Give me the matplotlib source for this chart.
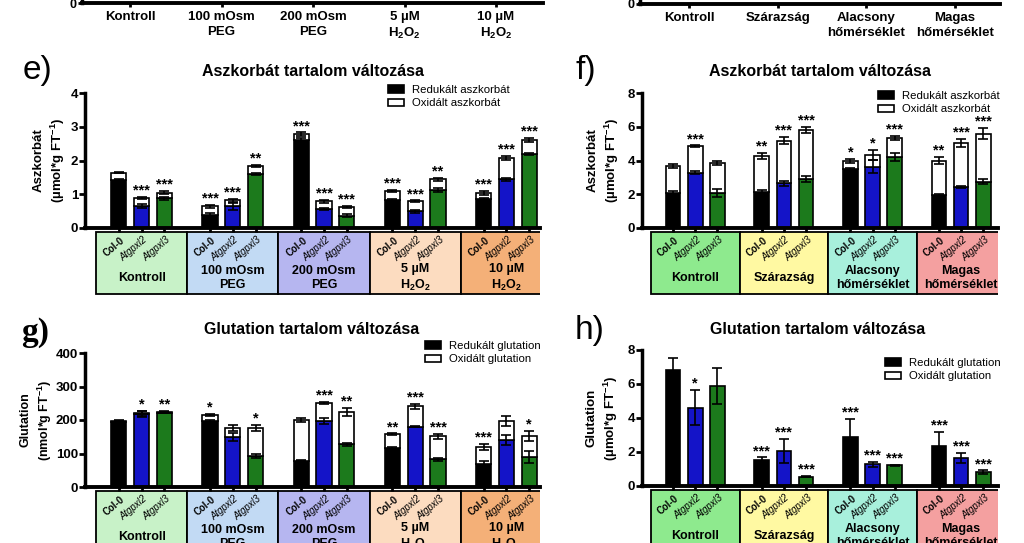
import numpy as np
import matplotlib
matplotlib.use("Agg")
import matplotlib.pyplot as plt
from matplotlib.patches import Rectangle, Patch

plt.rcParams['font.family'] = ['Liberation Sans', 'DejaVu Sans']
plt.rcParams['mathtext.fontset'] = 'custom'
plt.rcParams['mathtext.rm'] = 'Liberation Sans'
plt.rcParams['mathtext.bf'] = 'Liberation Sans:bold'
plt.rcParams['mathtext.it'] = 'Liberation Sans:italic'

# =========================
# DATA
# =========================
lines = ['Col-0', 'Atgpxl2', 'Atgpxl3']
bar_colors = ['black', '#1414c8', '#1c7a1c']

groups_e = ['Kontroll', '100 mOsm\nPEG', '200 mOsm\nPEG',
            '5 µM\n$\\mathbf{H_2O_2}$', '10 µM\n$\\mathbf{H_2O_2}$']
groups_f = ['Kontroll', 'Szárazság', 'Alacsony\nhőmérséklet', 'Magas\nhőmérséklet']
box_colors_e = ['#c8f2c8', '#c2daf4', '#b6b6f0', '#fcdcc0', '#f4b078']
box_colors_f = ['#8eea8e', '#fff9a2', '#a8f0dc', '#f4a0a0']

# e) ascorbate, osmotic / H2O2 stress
asc_e_total = [1.64, 0.90, 1.05, 0.64, 0.82, 1.84, 2.78, 0.79, 0.62, 1.10, 0.79, 1.44, 1.05, 2.08, 2.61]
asc_e_total_err = [0.02, 0.03, 0.04, 0.04, 0.05, 0.04, 0.05, 0.04, 0.04, 0.03, 0.03, 0.04, 0.06, 0.06, 0.05]
asc_e_red = [1.42, 0.64, 0.88, 0.39, 0.64, 1.60, 2.62, 0.56, 0.37, 0.83, 0.49, 1.13, 0.85, 1.44, 2.19]
asc_e_red_err = [0.02, 0.06, 0.05, 0.04, 0.10, 0.02, 0.05, 0.04, 0.04, 0.03, 0.05, 0.05, 0.04, 0.04, 0.03]
asc_e_stars = ['', '***', '***', '***', '***', '**', '***', '***', '***', '***', '***', '**', '***', '***', '***']

# f) ascorbate, drought / temperature stress
asc_f_total = [3.67, 4.85, 3.87, 4.26, 5.17, 5.80, 3.97, 4.32, 5.36, 3.99, 5.05, 5.60]
asc_f_total_err = [0.10, 0.05, 0.12, 0.18, 0.22, 0.18, 0.12, 0.30, 0.12, 0.22, 0.25, 0.35]
asc_f_red = [2.10, 3.28, 2.06, 2.16, 2.65, 2.91, 3.50, 3.63, 4.22, 1.96, 2.42, 2.75]
asc_f_red_err = [0.08, 0.08, 0.25, 0.08, 0.15, 0.20, 0.08, 0.40, 0.25, 0.05, 0.05, 0.15]
asc_f_stars = ['', '***', '', '**', '***', '***', '*', '*', '***', '**', '***', '***']

# g) glutathione, osmotic / H2O2 stress
glu_g_total = [197, 220, 225, 215, 176, 176, 200, 252, 224, 158, 241, 151, 120, 196, 152]
glu_g_total_err = [3, 8, 3, 3, 8, 10, 5, 3, 12, 2, 8, 7, 9, 15, 15]
glu_g_red = [194, 218, 222, 198, 149, 92, 79, 197, 127, 117, 180, 83, 70, 140, 90]
glu_g_red_err = [2, 8, 2, 3, 12, 6, 2, 8, 4, 3, 2, 4, 7, 15, 18]
glu_g_stars = ['', '*', '**', '*', '', '*', '', '***', '**', '**', '***', '***', '***', '', '*']

# h) glutathione, drought / temperature stress
glu_h_red = [6.82, 4.61, 5.88, 1.53, 2.08, 0.55, 2.90, 1.27, 1.22, 2.35, 1.63, 0.80]
glu_h_red_err = [0.70, 1.05, 1.05, 0.15, 0.70, 0.03, 1.05, 0.15, 0.03, 0.85, 0.30, 0.12]
glu_h_stars = ['', '*', '', '***', '***', '***', '***', '***', '***', '***', '***', '***']

# =========================
# FIGURE
# =========================
W, H = 1024, 543
fig = plt.figure(figsize=(W / 100, H / 100), dpi=100)
fig.patch.set_facecolor('white')


def fx(x):
    return x / W


def fy(y):
    return 1 - y / H


def top_strip(left, right, base, first, step, labels):
    # bottom of the previous (cut off) panel
    ax = fig.add_axes([fx(left), fy(base), fx(right) - fx(left), 30 / H])
    ax.set_xlim((left - first) / step, (right - first) / step)
    ax.set_ylim(0, 1)
    for s in ['top', 'right']:
        ax.spines[s].set_visible(False)
    ax.spines['bottom'].set_linewidth(2.8)
    ax.spines['left'].set_linewidth(2.5)
    ax.set_yticks([0])
    ax.set_yticklabels(['0'], fontsize=9, fontweight='bold')
    ax.set_xticks(range(len(labels)))
    ax.set_xticklabels(labels, fontsize=9.5, fontweight='bold', linespacing=1.25)
    ax.tick_params(axis='x', length=3, width=2, pad=3)
    ax.tick_params(axis='y', length=3, width=2, pad=1)
    ax.patch.set_alpha(0)


top_strip(82, 543, 3, 130, 91.5, groups_e)
top_strip(640, 1000, 4, 689, 88.7, groups_f)


def panel(left, right, x0, slot, y0, ppu, ylo, yhi, yticks, groups, box_colors):
    bottom_px = y0 - ylo * ppu
    ax = fig.add_axes([fx(left), fy(bottom_px), fx(right) - fx(left), (yhi - ylo) * ppu / H])
    ax.set_xlim((left - x0) / slot, (right - x0) / slot)
    ax.set_ylim(ylo, yhi)
    ax.patch.set_alpha(0)
    for s in ['top', 'right']:
        ax.spines[s].set_visible(False)
    ax.spines['left'].set_bounds(yticks[0], yticks[-1])
    ax.spines['bottom'].set_position(('data', 0))
    ax.spines['left'].set_linewidth(2.5)
    ax.spines['bottom'].set_linewidth(2.8)
    ax.set_yticks(yticks)
    ax.set_yticklabels([str(t) for t in yticks], fontsize=9.5, fontweight='bold')
    ax.tick_params(axis='y', length=4, width=2, pad=1)

    n = len(groups)
    pos = np.array([4 * g + 1 + i for g in range(n) for i in range(3)], dtype=float)
    ax.set_xticks(pos)
    ax.set_xticklabels([])
    ax.tick_params(axis='x', length=3, width=2, direction='out')

    box_top = -4 / ppu
    box_bot = -66 / ppu
    for g in range(n):
        ax.add_patch(Rectangle((4 * g, box_top), 4, box_bot - box_top,
                               facecolor=box_colors[g], edgecolor='black', lw=1.3, zorder=1))
        ax.text(4 * g + 2, -50 / ppu, groups[g], ha='center', va='center',
                fontsize=9, fontweight='bold', linespacing=1.2, clip_on=True)
        for i in range(3):
            ax.text(4 * g + 1 + i + 0.2, -11 / ppu, lines[i], rotation=40,
                    rotation_mode='anchor', ha='right', va='center', fontsize=6.9,
                    fontweight='bold' if i == 0 else 'normal',
                    fontstyle='normal' if i == 0 else 'italic', clip_on=True)
    return ax, pos


def bars(ax, pos, red, red_err, total=None, total_err=None, stars=None):
    cols = bar_colors * (len(pos) // 3)
    ax.bar(pos, red, width=0.66, color=cols, edgecolor='black', linewidth=1.2, zorder=2)
    ax.errorbar(pos, red, yerr=red_err, fmt='none', ecolor='black', elinewidth=1.2,
                capsize=3.5, capthick=1.2, zorder=3)
    top = np.array(red, dtype=float) + np.array(red_err, dtype=float)
    if total is not None:
        ax.bar(pos, np.array(total) - np.array(red), bottom=red, width=0.66, color='white',
               edgecolor='black', linewidth=1.2, zorder=2)
        ax.errorbar(pos, total, yerr=total_err, fmt='none', ecolor='black', elinewidth=1.2,
                    capsize=3.5, capthick=1.2, zorder=3)
        top = np.array(total, dtype=float) + np.array(total_err, dtype=float)
    for x, t, s in zip(pos, top, stars):
        if s:
            ax.annotate(s, (x, t), xytext=(0, -0.5), textcoords='offset points',
                        ha='center', va='bottom', fontsize=10.5, fontweight='bold')


def legend(ax, x, y, labels):
    handles = [Patch(facecolor='black', edgecolor='black', lw=1.2),
               Patch(facecolor='white', edgecolor='black', lw=1.2)]
    ax.legend(handles, labels, loc='upper left', bbox_to_anchor=(fx(x), fy(y)),
              bbox_transform=fig.transFigure, frameon=False, fontsize=8.2,
              handlelength=1.4, handleheight=0.65, handletextpad=0.7,
              labelspacing=0.3, borderpad=0, borderaxespad=0)


def ylabel(x, y0, ppu, ymid, text, size=9.5):
    fig.text(fx(x), fy(y0 - ymid * ppu), text, rotation=90, ha='center', va='center',
             fontsize=size, fontweight='bold', linespacing=1.3, multialignment='center')


asc_labels = ['Redukált aszkorbát', 'Oxidált aszkorbát']
glu_labels = ['Redukált glutation', 'Oxidált glutation']

# e)
ax_e, pos_e = panel(85, 540, 96, 22.8, 228, 33.75, -2.0, 4.15, [0, 1, 2, 3, 4], groups_e, box_colors_e)
bars(ax_e, pos_e, asc_e_red, asc_e_red_err, asc_e_total, asc_e_total_err, asc_e_stars)
legend(ax_e, 388, 85, asc_labels)
ylabel(50, 228, 33.75, 2, 'Aszkorbát\n(µmol*g FT$\\mathbf{^{-1}}$)')

# f)
ax_f, pos_f = panel(642, 998, 651, 22.15, 228, 16.875, -4.0, 8.3, [0, 2, 4, 6, 8], groups_f, box_colors_f)
bars(ax_f, pos_f, asc_f_red, asc_f_red_err, asc_f_total, asc_f_total_err, asc_f_stars)
legend(ax_f, 878, 91, asc_labels)
ylabel(604, 228, 16.875, 4, 'Aszkorbát\n(µmol*g FT$\\mathbf{^{-1}}$)')

# g)
ax_g, pos_g = panel(85, 540, 96, 22.8, 487, 0.335, -200, 410, [0, 100, 200, 300, 400], groups_e, box_colors_e)
bars(ax_g, pos_g, glu_g_red, glu_g_red_err, glu_g_total, glu_g_total_err, glu_g_stars)
legend(ax_g, 425, 341, glu_labels)
ylabel(37, 487, 0.335, 200, 'Glutation\n(nmol*g FT$\\mathbf{^{-1}}$)', size=9)

# h)
ax_h, pos_h = panel(642, 998, 651, 22.15, 486, 17, -4.0, 8.2, [0, 2, 4, 6, 8], groups_f, box_colors_f)
bars(ax_h, pos_h, glu_h_red, glu_h_red_err, stars=glu_h_stars)
legend(ax_h, 885, 358, glu_labels)
ylabel(603, 486, 17, 4, 'Glutation\n(µmol*g FT$\\mathbf{^{-1}}$)')

# titles and panel letters
fig.text(fx(313), fy(72), 'Aszkorbát tartalom változása', ha='center', va='center', fontsize=11.5, fontweight='bold')
fig.text(fx(820), fy(72), 'Aszkorbát tartalom változása', ha='center', va='center', fontsize=11.5, fontweight='bold')
fig.text(fx(312), fy(330), 'Glutation tartalom változása', ha='center', va='center', fontsize=11.5, fontweight='bold')
fig.text(fx(818), fy(329), 'Glutation tartalom változása', ha='center', va='center', fontsize=11.5, fontweight='bold')

fig.text(fx(23), fy(71), 'e)', ha='left', va='center', fontsize=24)
fig.text(fx(575), fy(70), 'f)', ha='left', va='center', fontsize=24)
fig.text(fx(21), fy(332), 'g)', ha='left', va='center', fontsize=24, fontweight='bold', family='Liberation Serif')
fig.text(fx(575), fy(331), 'h)', ha='left', va='center', fontsize=24)

fig.savefig('out.png', dpi=100, facecolor='white')
